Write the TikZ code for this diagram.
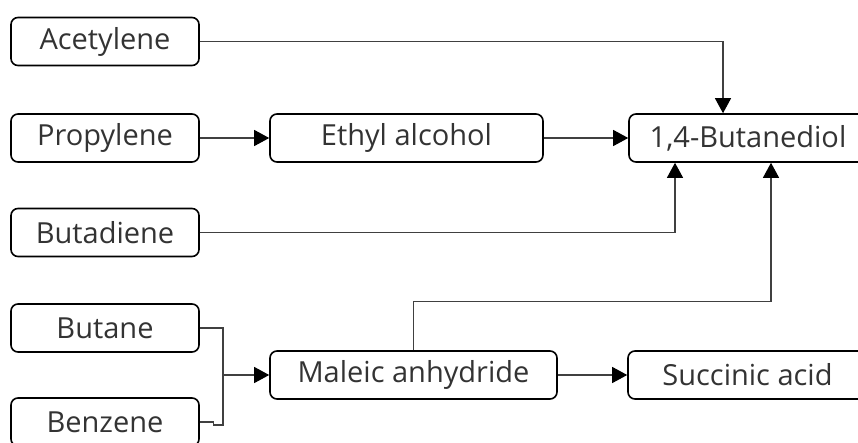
\documentclass[tikz,border=0pt]{standalone}
\usepackage{fontspec}
\setmainfont{Open Sans}
\usetikzlibrary{arrows.meta}

\begin{document}
\begin{tikzpicture}
  [x=1pt,y=-1pt,
    box/.style={draw,rounded corners=7pt,line width=1.6pt,minimum height=48pt,
      inner sep=0pt,font=\fontsize{29}{31}\selectfont,text=black!80},
    src/.style={box,minimum width=188pt},
    link/.style={draw=black!75,line width=1.1pt},
    feed/.style={link,-{Triangle[length=15pt,width=16pt,color=black]}}]
  \useasboundingbox (0,0) rectangle (858,442);
  \clip (0,0) rectangle (858,442);
  % feedstocks
  \node[src] (acet) at (105,41.5) {Acetylene};
  \node[src] (prop) at (105,138) {Propylene};
  \node[src] (buta) at (105,232.5) {Butadiene};
  \node[src] (butn) at (105,328) {Butane};
  \node[src] (benz) at (105,422) {Benzene};
  % products
  \node[box,minimum width=273pt] (ethyl) at (406.5,138) {Ethyl alcohol};
  \node[box,minimum width=238pt] (diol) at (748,138) {1,4-Butanediol};
  \node[box,minimum width=287pt] (mal) at (413.5,375) {Maleic anhydride};
  \node[box,minimum width=239pt] (succ) at (747.5,375) {Succinic acid};
  \coordinate (jn) at (223,375);
  % connectors
  \draw[feed] (acet.east) -| ([xshift=-25pt]diol.north);
  \draw[feed] (prop) -- (ethyl);
  \draw[feed] (ethyl) -- (diol);
  \draw[feed] (buta.east) -| ([xshift=-73pt]diol.south);
  \draw[link] (butn.east) -| (jn);
  \draw[link] (benz.east) -- ++(14,0) -- ++(0,3) -| (jn);
  \draw[feed] (jn) -- (mal.west);
  \draw[feed] (mal) -- (succ);
  \draw[feed] (mal.north) -- ++(0,-49) -| ([xshift=23pt]diol.south);
\end{tikzpicture}
\end{document}
